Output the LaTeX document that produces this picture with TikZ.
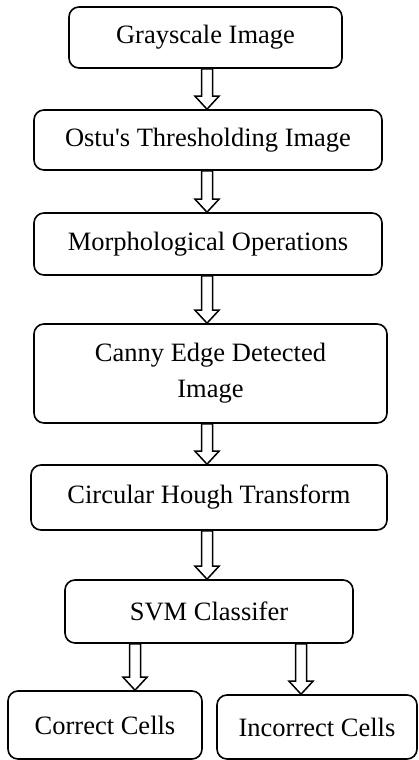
\documentclass[tikz,border=0pt]{standalone}
\usepackage{fontspec}
\setmainfont{Liberation Serif}
\usetikzlibrary{calc}
\tikzset{
  box/.style={draw=black, line width=1.6pt, rounded corners=10pt, inner sep=0pt,
    align=center, font=\fontsize{26.5}{36}\selectfont},
  blockarrow/.style={draw=black, line width=1.5pt, fill=white, line join=miter}
}
\newcommand\barrow[2]{%
  \path[blockarrow] let \p1=(#1), \p2=(#2) in
    (\x1-5.5pt,\y1) -- (\x1-5.5pt,\y2+13pt) -- (\x1-12pt,\y2+13pt) -- (\x1,\y2)
    -- (\x1+12pt,\y2+13pt) -- (\x1+5.5pt,\y2+13pt) -- (\x1+5.5pt,\y1) -- cycle;}
\begin{document}
\begin{tikzpicture}[x=1pt,y=-1pt]
\useasboundingbox (0,0) rectangle (418,760);
\node[box, minimum width=273pt, minimum height=61pt] (gray) at (205.5,37.5) {Grayscale Image};
\node[box, minimum width=348pt, minimum height=60pt] (ostu) at (208,140) {Ostu\textquotesingle s Thresholding Image};
\node[box, minimum width=348pt, minimum height=62pt] (morph) at (208,244) {Morphological Operations};
\node[box, minimum width=353pt, minimum height=99pt] (canny) at (210.5,373.5) {Canny Edge Detected\\Image};
\node[box, minimum width=356pt, minimum height=65pt] (hough) at (209,497.5) {Circular Hough Transform};
\node[box, minimum width=288pt, minimum height=63pt] (svm) at (209,611.5) {SVM Classifer};
\node[box, minimum width=194pt, minimum height=68pt] (correct) at (105,725) {Correct Cells};
\node[box, minimum width=200pt, minimum height=64pt] (incorrect) at (317,727) {Incorrect Cells};
\coordinate (mx) at (207,0);
\coordinate (lx) at (135,0);
\coordinate (rx) at (301,0);
\barrow{gray.south -| mx}{ostu.north -| mx}
\barrow{ostu.south -| mx}{morph.north -| mx}
\barrow{morph.south -| mx}{canny.north -| mx}
\barrow{canny.south -| mx}{hough.north -| mx}
\barrow{hough.south -| mx}{svm.north -| mx}
\barrow{svm.south -| lx}{correct.north -| lx}
\barrow{svm.south -| rx}{incorrect.north -| rx}
\end{tikzpicture}
\end{document}
